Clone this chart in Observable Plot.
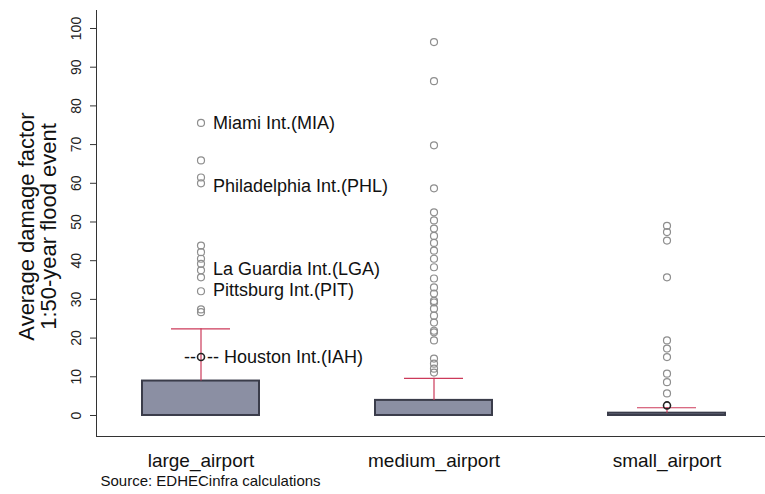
<!DOCTYPE html>
<html><head><meta charset="utf-8">
<script src="https://cdn.jsdelivr.net/npm/d3@7"></script>
<script src="https://cdn.jsdelivr.net/npm/@observablehq/plot@0.6"></script>
<style>body{margin:0;background:#fff;} svg{font-family:"Liberation Sans",Arial,Helvetica,sans-serif;}</style>
</head><body><div id="chart"></div>
<script>
const categories = ["large_airport", "medium_airport", "small_airport"];
const q1 = [0, 0, 0];
const q3 = [8.9, 3.9, 0.6];
const whiskerHigh = [22.4, 9.6, 2.0];
const largeOutliers = [75.6, 65.9, 61.5, 60.0, 43.9, 42.2, 40.5, 39.2, 37.5, 35.7, 32.1, 27.4, 26.7];
const mediumOutliers = [96.5, 86.4, 69.8, 58.7, 52.5, 50.4, 48.3, 46.4, 44.6, 42.6, 40.5, 38.3, 35.4, 33.1, 31.5, 29.6, 29.2, 27.6, 25.8, 24.0, 21.9, 21.5, 19.4, 14.7, 13.4, 12.1, 11.1];
const smallOutliers = [49.0, 47.4, 45.2, 35.7, 19.4, 17.3, 15.1, 10.8, 8.6, 5.7];
const highlightCats = ["large_airport", "small_airport"];
const highlightValues = [15.1, 2.6];
const labelTexts = ["Miami Int.(MIA)", "Philadelphia Int.(PHL)", "La Guardia Int.(LGA)", "Pittsburg Int.(PIT)"];
const labelValues = [75.6, 59.2, 37.7, 32.3];
const houstonText = "-- Houston Int.(IAH)";
const yTicks = [0, 10, 20, 30, 40, 50, 60, 70, 80, 90, 100];
const yTitle = "Average damage factor\n1:50-year flood event";
const caption = "Source: EDHECinfra calculations";

const boxes = categories.map((c, i) => ({cat: c, q1: q1[i], q3: q3[i], hi: whiskerHigh[i]}));
const outliers = [
  ...largeOutliers.map(v => ({cat: categories[0], v})),
  ...mediumOutliers.map(v => ({cat: categories[1], v})),
  ...smallOutliers.map(v => ({cat: categories[2], v}))
];
const highlights = highlightCats.map((c, i) => ({cat: c, v: highlightValues[i]}));
const labels = labelTexts.map((t, i) => ({cat: categories[0], v: labelValues[i], t}));

const red = "#cc3a5a";
const plot = Plot.plot({
  width: 765,
  height: 494,
  marginLeft: 96,
  marginRight: 0,
  marginTop: 10,
  marginBottom: 58,
  style: {fontFamily: "'Liberation Sans', Arial, sans-serif", background: "#fff"},
  x: {type: "band", domain: categories, range: [141.75, 725.5], paddingInner: 0.5, paddingOuter: 0},
  y: {domain: [-5.43, 104.65]},
  marks: [
    Plot.frame({anchor: "left", stroke: "#333"}),
    Plot.ruleY([-5.43], {stroke: "#333"}),
    Plot.axisY({ticks: yTicks, tickSize: 6, tickPadding: 10, tickRotate: -90, fontSize: 14, label: null, stroke: "#333", color: "#222"}),
    Plot.axisX({tickSize: 0, tickPadding: 17, fontSize: 19, label: null, color: "#111"}),
    Plot.barY(boxes, {x: "cat", y1: "q1", y2: "q3", fill: "#8b8fa3", stroke: "#3a3c4a", strokeWidth: 2}),
    Plot.ruleX(boxes, {x: "cat", y1: "q3", y2: "hi", stroke: red, strokeWidth: 1.2}),
    Plot.tickY(boxes, {x: "cat", y: "hi", stroke: red, strokeWidth: 1.2, insetLeft: 29, insetRight: 29}),
    Plot.dot(outliers, {x: "cat", y: "v", r: 3.5, stroke: "#8e8e8e", strokeWidth: 1.2, fill: "none"}),
    Plot.dot(highlights, {x: "cat", y: "v", r: 3.5, stroke: "#222", strokeWidth: 1.6, fill: "none"}),
    Plot.text(labels, {x: "cat", y: "v", text: "t", textAnchor: "start", dx: 12, fontSize: 18, fill: "#111"}),
    Plot.text([houstonText], {x: () => categories[0], y: () => highlightValues[0], text: d => d, textAnchor: "start", dx: 6, fontSize: 18, fill: "#111"}),
    Plot.text(["--"], {x: () => categories[0], y: () => highlightValues[0], text: d => d, textAnchor: "end", dx: -5, fontSize: 18, fill: "#111"}),
    Plot.text([yTitle], {frameAnchor: "left", rotate: -90, dx: -59, dy: 3, fontSize: 22, lineHeight: 1.0, fill: "#111", textAnchor: "middle"}),
    Plot.text([caption], {frameAnchor: "bottom-left", dx: 4, dy: 49, textAnchor: "start", fontSize: 15, fill: "#111"})
  ]
});
document.getElementById("chart").appendChild(plot);
</script>
</body></html>
